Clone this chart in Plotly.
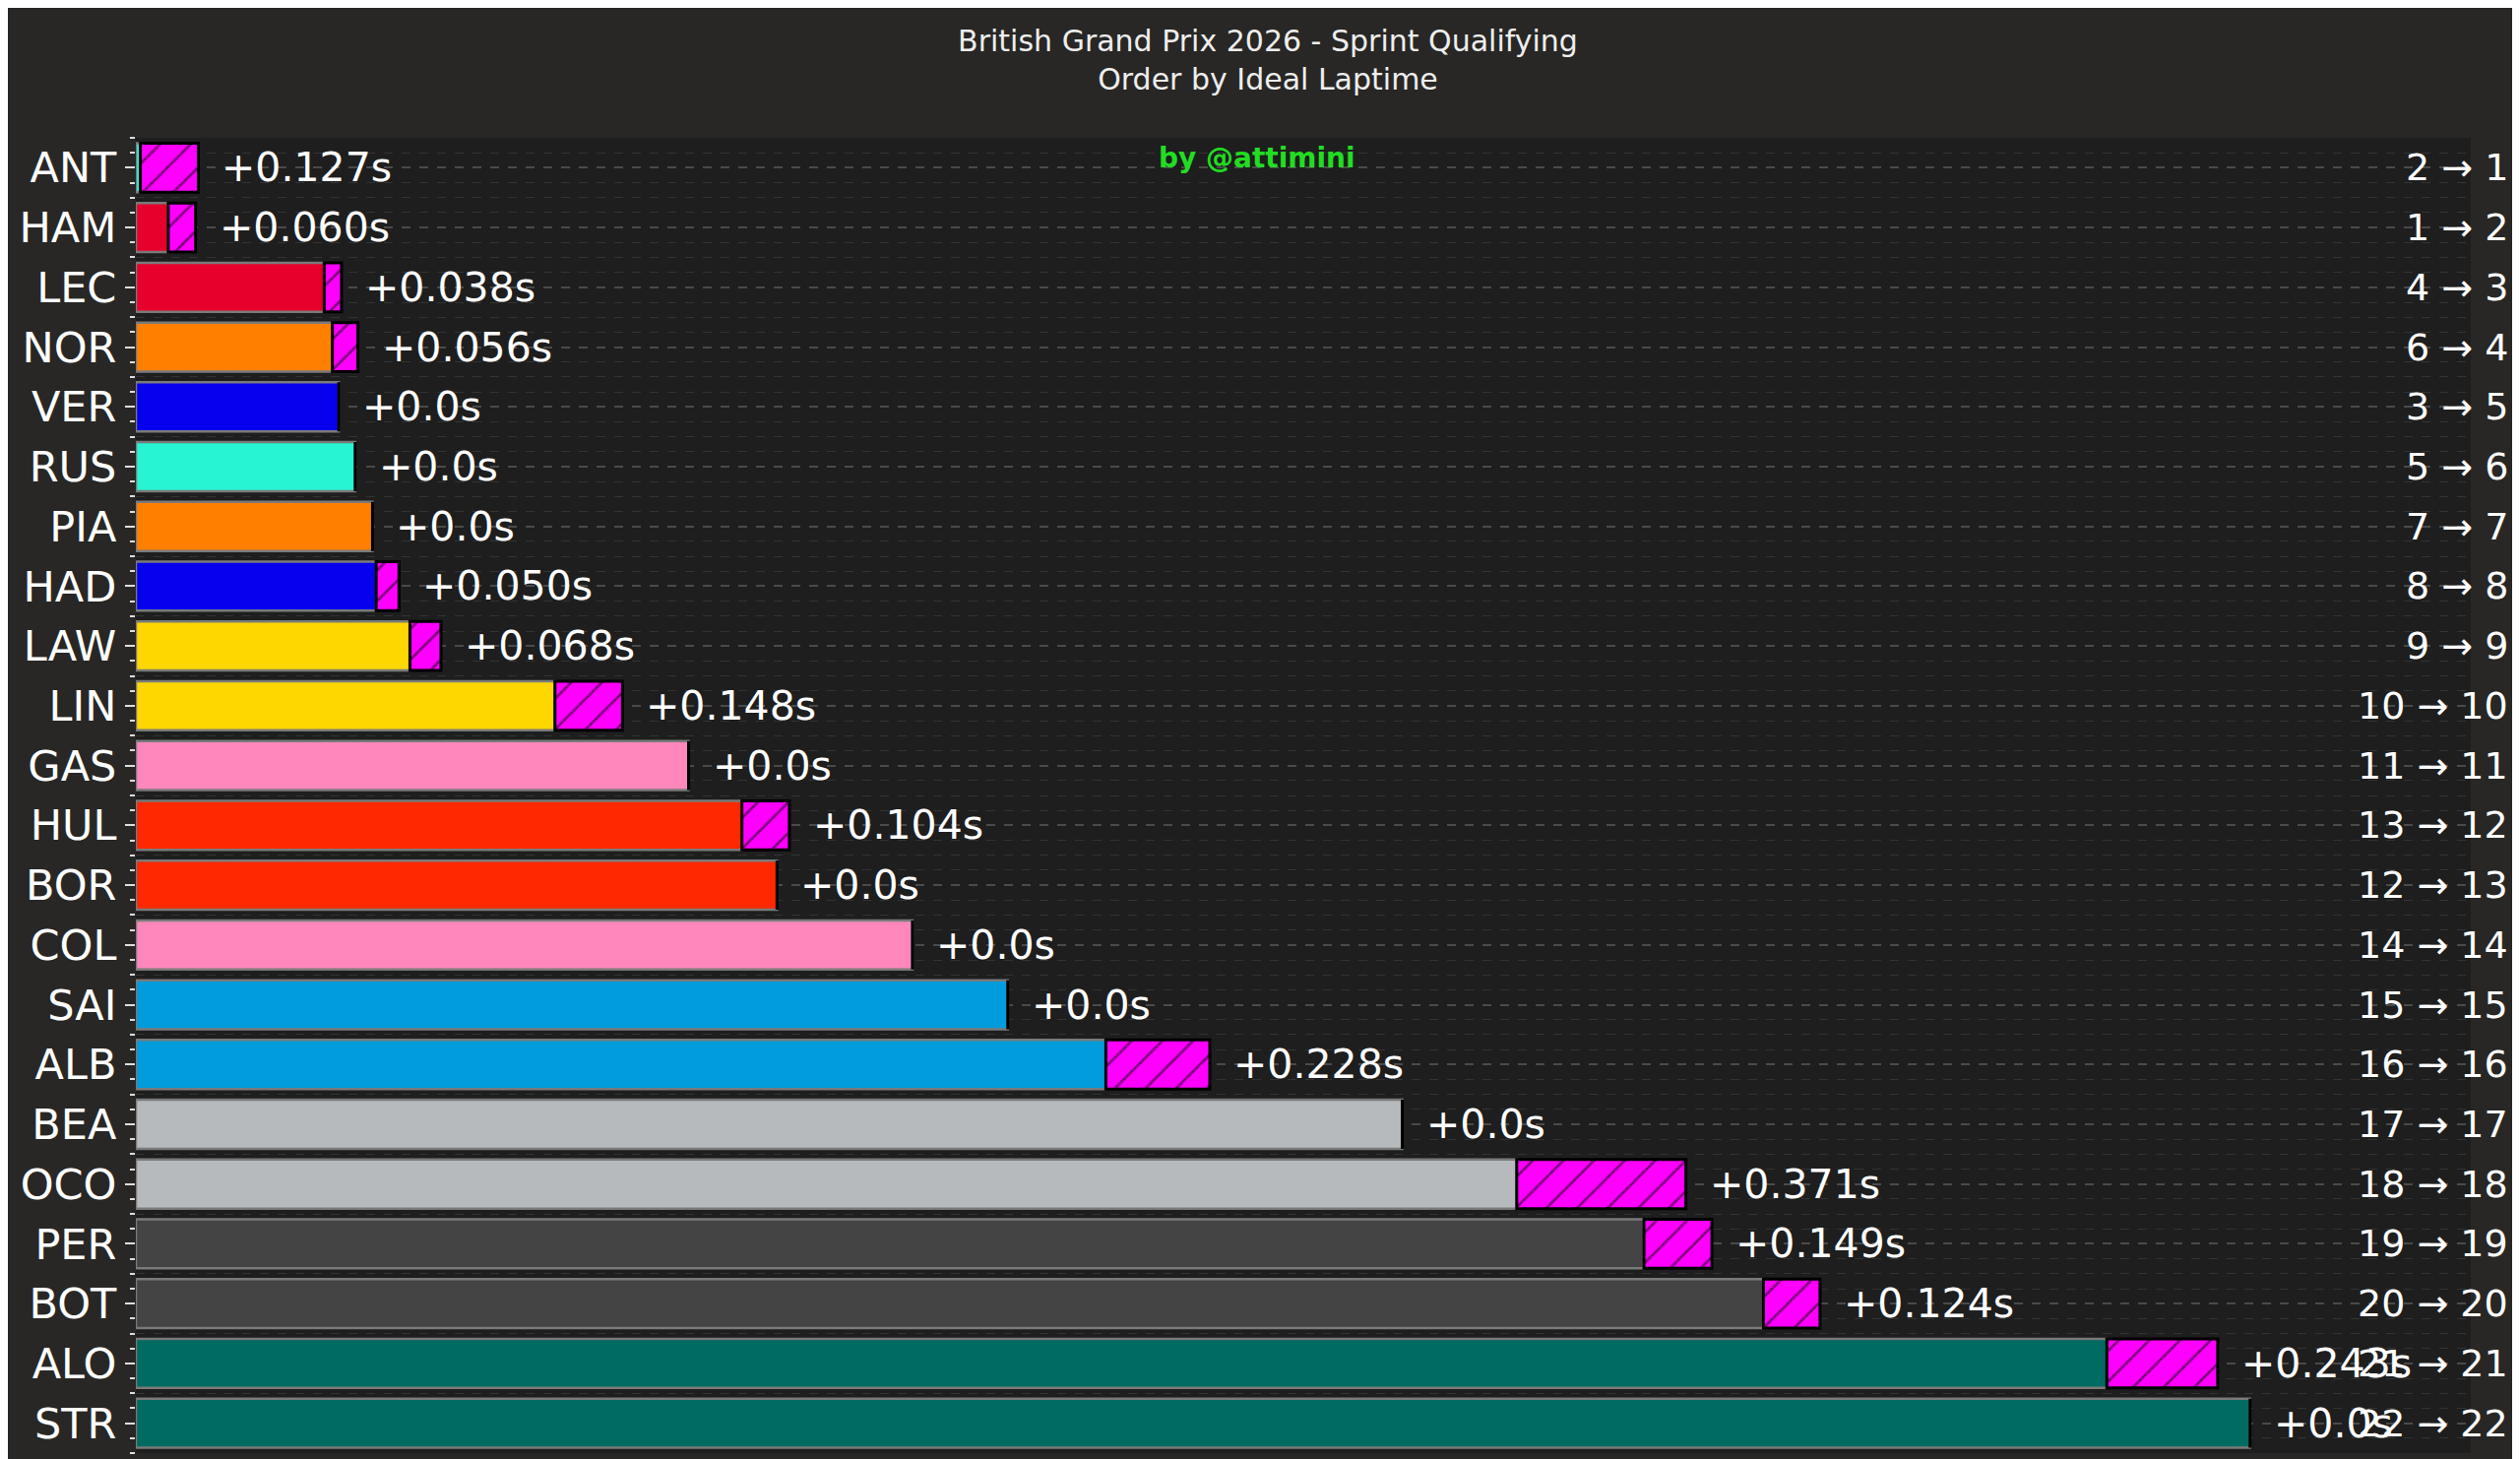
import plotly.graph_objects as go

drivers = ["ANT", "HAM", "LEC", "NOR", "VER", "RUS", "PIA", "HAD", "LAW", "LIN", "GAS",
           "HUL", "BOR", "COL", "SAI", "ALB", "BEA", "OCO", "PER", "BOT", "ALO", "STR"]
# gap to fastest ideal lap (s), and gap from actual to ideal lap (s)
ideal_gap = [0.01, 0.071, 0.413, 0.431, 0.445, 0.481, 0.519, 0.527, 0.601, 0.919, 1.212,
             1.329, 1.406, 1.703, 1.912, 2.127, 2.777, 3.028, 3.307, 3.569, 4.322, 4.636]
lost = [0.127, 0.060, 0.038, 0.056, 0.0, 0.0, 0.0, 0.050, 0.068, 0.148, 0.0,
        0.104, 0.0, 0.0, 0.0, 0.228, 0.0, 0.371, 0.149, 0.124, 0.243, 0.0]
lost_text = ["+0.127s", "+0.060s", "+0.038s", "+0.056s", "+0.0s", "+0.0s", "+0.0s", "+0.050s",
             "+0.068s", "+0.148s", "+0.0s", "+0.104s", "+0.0s", "+0.0s", "+0.0s", "+0.228s",
             "+0.0s", "+0.371s", "+0.149s", "+0.124s", "+0.243s", "+0.0s"]
colors = ["#27F4D2", "#E8002D", "#E8002D", "#FF8000", "#0600EF", "#27F4D2", "#FF8000", "#0600EF",
          "#FFD700", "#FFD700", "#FF87BC", "#FF2800", "#FF2800", "#FF87BC", "#009CDB", "#009CDB",
          "#B6BABD", "#B6BABD", "#444444", "#444444", "#006B61", "#006B61"]
actual_pos = [2, 1, 4, 6, 3, 5, 7, 8, 9, 10, 11, 13, 12, 14, 15, 16, 17, 18, 19, 20, 21, 22]
ideal_pos = list(range(1, 23))

ypos = list(range(len(drivers)))
xmax = 5.12

fig = go.Figure()
fig.add_trace(go.Bar(
    y=ypos, x=ideal_gap, orientation="h", width=0.82,
    marker=dict(color=colors, line=dict(color="#7a7a7a", width=2.5)),
    showlegend=False, hoverinfo="skip"))
fig.add_trace(go.Bar(
    y=ypos, x=lost, base=ideal_gap, orientation="h", width=0.82,
    marker=dict(color="#FF00FF", line=dict(color="black", width=3),
                pattern=dict(shape="/", fgcolor="black", bgcolor="#FF00FF", size=22, solidity=0.12)),
    showlegend=False, hoverinfo="skip"))

for i in ypos:
    fig.add_annotation(x=ideal_gap[i] + lost[i], y=i, text=lost_text[i], xref="x", yref="y",
                       xanchor="left", xshift=22, showarrow=False,
                       font=dict(size=41, color="white"))
    fig.add_annotation(x=1.0, y=i, text=f"{actual_pos[i]} → {ideal_pos[i]}", xref="paper", yref="y",
                       xanchor="right", xshift=40, showarrow=False,
                       font=dict(size=38, color="white"))

fig.add_annotation(x=0.48, y=1.0, xref="paper", yref="paper", yanchor="top", yshift=-2,
                   text="<b>by @attimini</b>", showarrow=False,
                   font=dict(size=28, color="#22DD22"))

fig.update_layout(
    width=2560, height=1482,
    paper_bgcolor="#282725", plot_bgcolor="#1e1e1e",
    font=dict(family="DejaVu Sans", color="white"),
    title=dict(text="British Grand Prix 2026 - Sprint Qualifying<br>Order by Ideal Laptime",
               x=0.5, xanchor="center", y=0.97, yanchor="top", font=dict(size=30, color="#eeeeee")),
    margin=dict(l=130, r=58, t=132, b=14),
    barmode="overlay", bargap=0.18,
    xaxis=dict(range=[0, xmax], showticklabels=False, showgrid=False, zeroline=False,
               ticks=""),
    yaxis=dict(range=[len(drivers) - 0.5, -0.5], tickvals=ypos, ticktext=drivers,
               tickfont=dict(size=43, color="white"), ticks="outside", ticklen=10,
               tickcolor="#dddddd", tickwidth=2, showgrid=True, gridcolor="#4a4a4a",
               griddash="dash", gridwidth=1.5, zeroline=False,
               minor=dict(dtick=0.25, tick0=0, ticks="outside", ticklen=5, tickcolor="#dddddd",
                          showgrid=True, gridcolor="#333333", griddash="dash", gridwidth=1)),
)

fig.write_html("out.html")
